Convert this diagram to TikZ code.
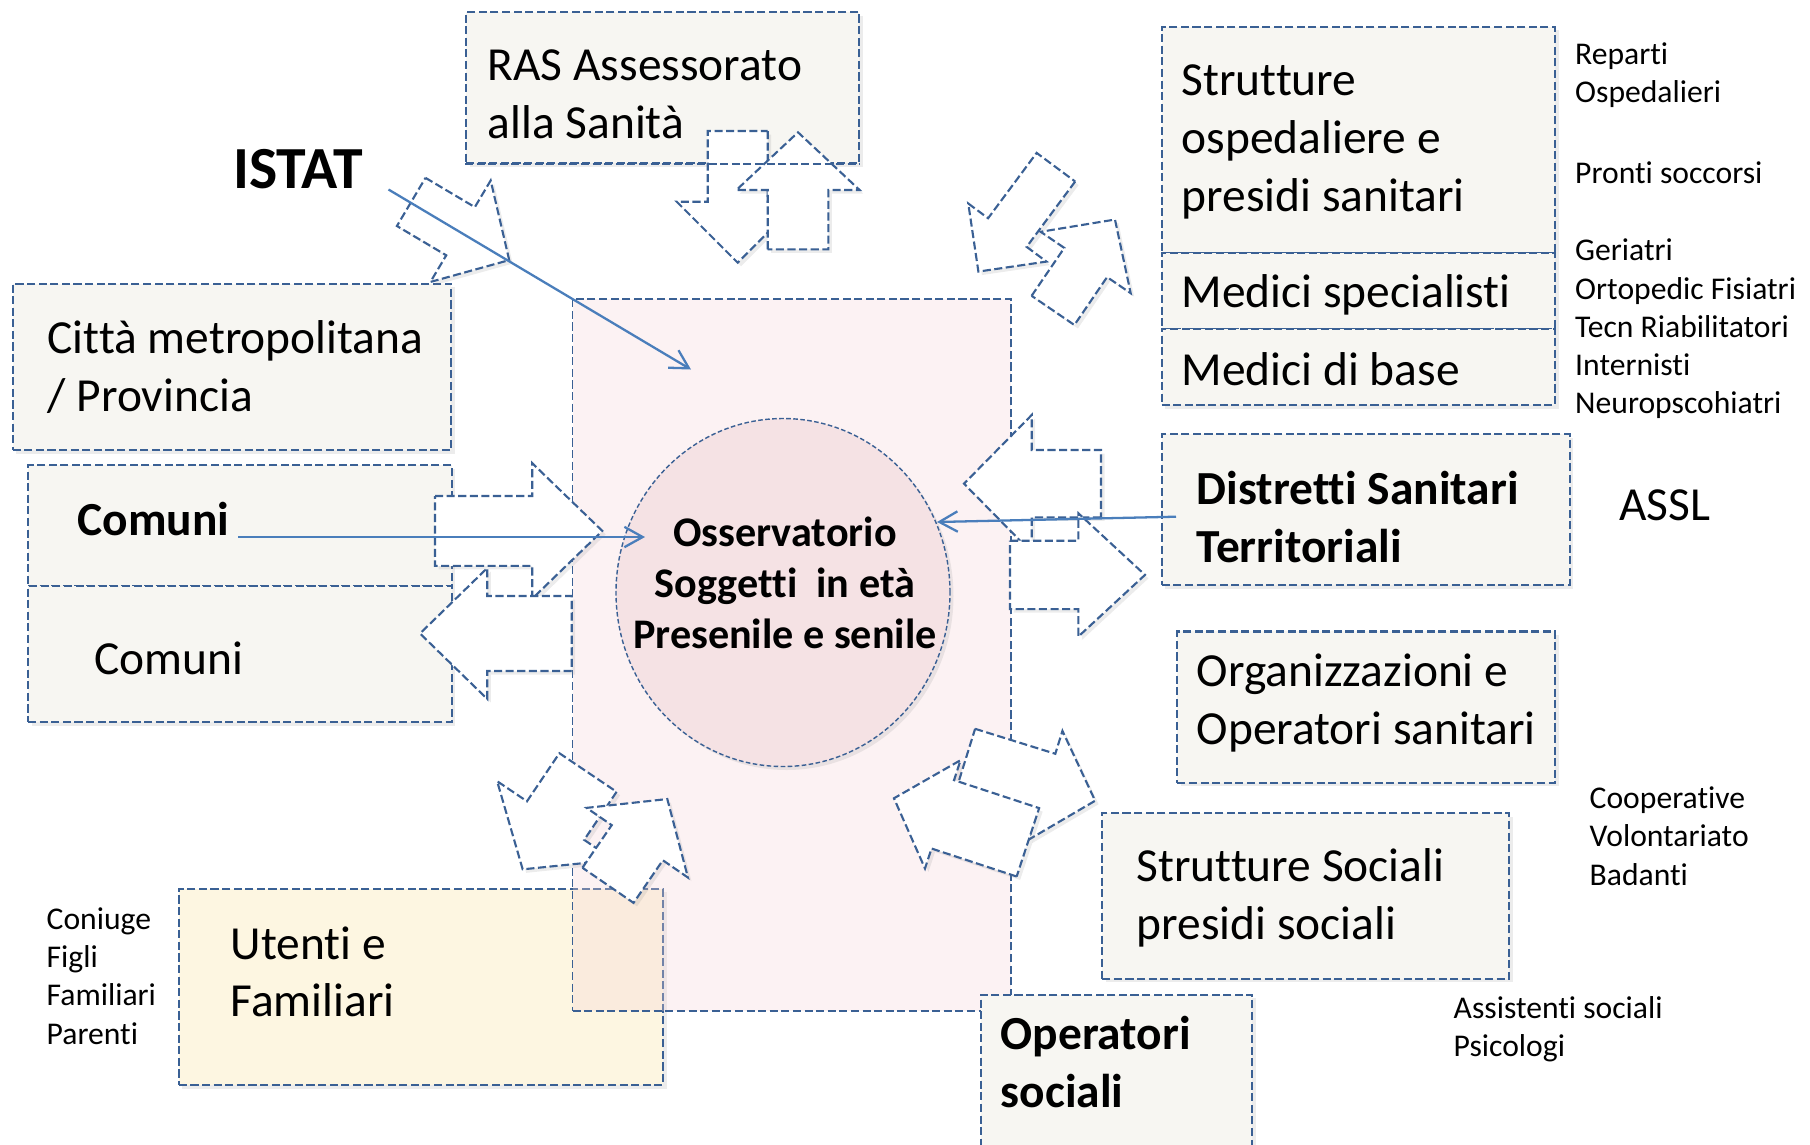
\documentclass[tikz,border=0pt]{standalone}
\usepackage{fontspec}
\setmainfont[RawFeature={-liga;-clig;-dlig;-calt}]{Carlito}
\usetikzlibrary{arrows.meta,shadows,shapes.geometric}

\definecolor{bordoblu}{RGB}{58,96,148}
\definecolor{lineablu}{RGB}{74,126,187}
\definecolor{grigino}{RGB}{247,246,242}
\definecolor{rosa}{RGB}{245,212,215}
\definecolor{rosacerchio}{RGB}{245,226,228}
\definecolor{crema}{RGB}{253,246,225}

\tikzset{
  tratteggio/.style={draw=bordoblu, line width=0.6pt, dash pattern=on 2.3pt off 1pt},
  ombra/.style={drop shadow={opacity=0.15, shadow xshift=0.35mm, shadow yshift=-0.35mm}},
  riquadro/.style={tratteggio, ombra, fill=grigino, anchor=north west, inner sep=0pt},
  freccia/.style={tratteggio, ombra, fill=white, line join=miter},
  testo/.style={anchor=west, align=left, inner sep=0pt, font=\fontsize{13.5}{16.4}\selectfont},
  grassetto/.style={testo, font=\fontsize{13.5}{16.4}\selectfont\bfseries},
  nota/.style={anchor=west, align=left, inner sep=0pt, font=\fontsize{9}{10.9}\selectfont},
  collega/.style={draw=lineablu, line width=0.65pt, -{Straight Barb[length=5.2pt,width=5.8pt]}}
}

\newcommand{\frecciablocco}[7]{%
  \draw[freccia, shift={(#1,#2)}, rotate=#3]
    (0,-#6) -- (#4-#5,-#6) -- (#4-#5,-#7) -- (#4,0)
    -- (#4-#5,#7) -- (#4-#5,#6) -- (0,#6) -- cycle;}

\begin{document}
\begin{tikzpicture}[x=0.1mm,y=-0.1mm]
    \useasboundingbox (0,0) rectangle (1810,1144);
    \node[riquadro, fill=crema, minimum width=48.42mm, minimum height=19.63mm] (utenti) at (177.8,887.7) {};
    \node[tratteggio, line width=0.5pt, fill=rosa, fill opacity=0.3, anchor=north west, inner sep=0pt, minimum width=43.83mm, minimum height=71.2mm] (centro) at (571.7,298) {};
    \node[ellipse, draw=bordoblu, line width=0.4pt, dash pattern=on 1.3pt off 0.7pt, fill=rosacerchio, ombra, inner sep=0pt, minimum width=33.4mm, minimum height=34.8mm] (oss) at (783,592.5) {};
    \node[riquadro, minimum width=39.3mm, minimum height=15.1mm] (ras) at (465,11) {};
    \node[riquadro, minimum width=43.84mm, minimum height=16.63mm] (citta) at (11.6,282.7) {};
    \node[riquadro, minimum width=42.37mm, minimum height=12.07mm] (comuni1) at (27,464.3) {};
    \node[riquadro, minimum width=42.37mm, minimum height=13.6mm] (comuni2) at (27,585) {};
    \node[riquadro, minimum width=39.34mm, minimum height=22.63mm] (strutture) at (1160.6,25.6) {};
    \node[riquadro, minimum width=39.34mm, minimum height=7.59mm] (specialisti) at (1160.6,251.9) {};
    \node[riquadro, minimum width=39.34mm, minimum height=7.62mm] (base) at (1160.6,327.8) {};
    \node[riquadro, minimum width=40.8mm, minimum height=15.1mm] (distretti) at (1160.7,433.3) {};
    \node[riquadro, minimum width=37.77mm, minimum height=15.15mm] (organizzazioni) at (1176.3,630.4) {};
    \node[riquadro, minimum width=40.68mm, minimum height=16.57mm] (sociali) at (1101.2,812.2) {};
    \node[riquadro, minimum width=27.13mm, minimum height=16mm] (operatori) at (980,993.6) {};

    \frecciablocco{411.2}{201.9}{-30.7}{114}{56.6}{28}{59}
    \frecciablocco{737.7}{131}{-90}{131.7}{61}{30}{61}
    \frecciablocco{798}{249.3}{90}{117}{57.7}{30.3}{61.6}
    \frecciablocco{1055.9}{167.2}{-126.6}{130}{48.6}{24}{48.7}
    \frecciablocco{1053}{310.4}{55.7}{110}{52}{25.9}{54.5}
    \frecciablocco{435}{530.9}{0}{167.3}{70}{34.9}{67.7}
    \frecciablocco{571.7}{633.5}{180}{151.7}{67.3}{37.5}{65.5}
    \frecciablocco{1101}{483.7}{180}{137}{67.7}{33.7}{68.7}
    \frecciablocco{1010}{574.9}{0}{135}{66.7}{34.2}{61.7}
    \frecciablocco{588}{772.5}{-124}{116.8}{58.8}{34.5}{70.5}
    \frecciablocco{608}{885.3}{55.5}{104.7}{53}{31}{61.5}
    \frecciablocco{965.3}{760.3}{-17.3}{136}{52}{33}{57}
    \frecciablocco{1027.9}{842.3}{-198.2}{141}{51.4}{36}{57}
    \draw[tratteggio] (ras.south west) -- (ras.south east);

    \node[testo] (rasT) at (487,94) {RAS Assessorato\\alla Sanità};
    \node[font=\fontsize{17}{20}\selectfont\bfseries, inner sep=0pt] (istat) at (298,169) {ISTAT};
    \node[testo] (cittaT) at (47,367) {Città metropolitana\\/ Provincia};
    \node[grassetto] (comuni1T) at (77,519) {Comuni};
    \node[testo] (comuni2T) at (94,658) {Comuni};
    \node[font=\fontsize{12}{14.5}\selectfont\bfseries, align=center, inner sep=0pt] (ossT) at (785,583) {Osservatorio\\Soggetti~ in età\\Presenile e senile};
    \node[testo] (struttureT) at (1181,142) {Strutture\\ospedaliere e\\presidi sanitari};
    \node[testo] (specialistiT) at (1181,295) {Medici specialisti};
    \node[testo] (baseT) at (1181,369) {Medici di base};
    \node[grassetto] (distrettiT) at (1196,517) {Distretti Sanitari\\Territoriali};
    \node[font=\fontsize{13.5}{16}\selectfont, inner sep=0pt] (assl) at (1665,505.5) {ASSL};
    \node[testo] (organizzazioniT) at (1196,703) {Organizzazioni e\\Operatori sanitari};
    \node[testo] (socialiT) at (1136,898) {Strutture Sociali\\presidi sociali};
    \node[grassetto] (operatoriT) at (1000,1062) {Operatori\\sociali};
    \node[testo] (utentiT) at (230,972) {Utenti e\\Familiari};

    \node[nota] (repartiT) at (1574.5,75.3) {Reparti\\Ospedalieri};
    \node[nota] (prontiT) at (1574.5,173) {Pronti soccorsi};
    \node[nota] (mediciT) at (1574.5,329) {Geriatri\\Ortopedic Fisiatri\\Tecn Riabilitatori\\Internisti\\Neuropscohiatri};
    \node[nota] (cooperativeT) at (1589,836) {Cooperative\\Volontariato\\Badanti};
    \node[nota] (assistentiT) at (1453,1029) {Assistenti sociali\\Psicologi};
    \node[nota] (coniugeT) at (46,976) {Coniuge\\Figli\\Familiari\\Parenti};

    \coordinate (istatP) at ([xshift=2.5mm]istat.south east);
    \coordinate (ossP1) at (691,369.5);
    \coordinate (comuniP) at (238,537);
    \coordinate (ossP2) at (645,537);
    \coordinate (distrettiP) at (1176,516.7);
    \coordinate (ossP3) at (937,522);
    \draw[collega] (istatP) -- (ossP1);
    \draw[collega] (comuniP) -- (ossP2);
    \draw[collega] (distrettiP) -- (ossP3);
\end{tikzpicture}
\end{document}
